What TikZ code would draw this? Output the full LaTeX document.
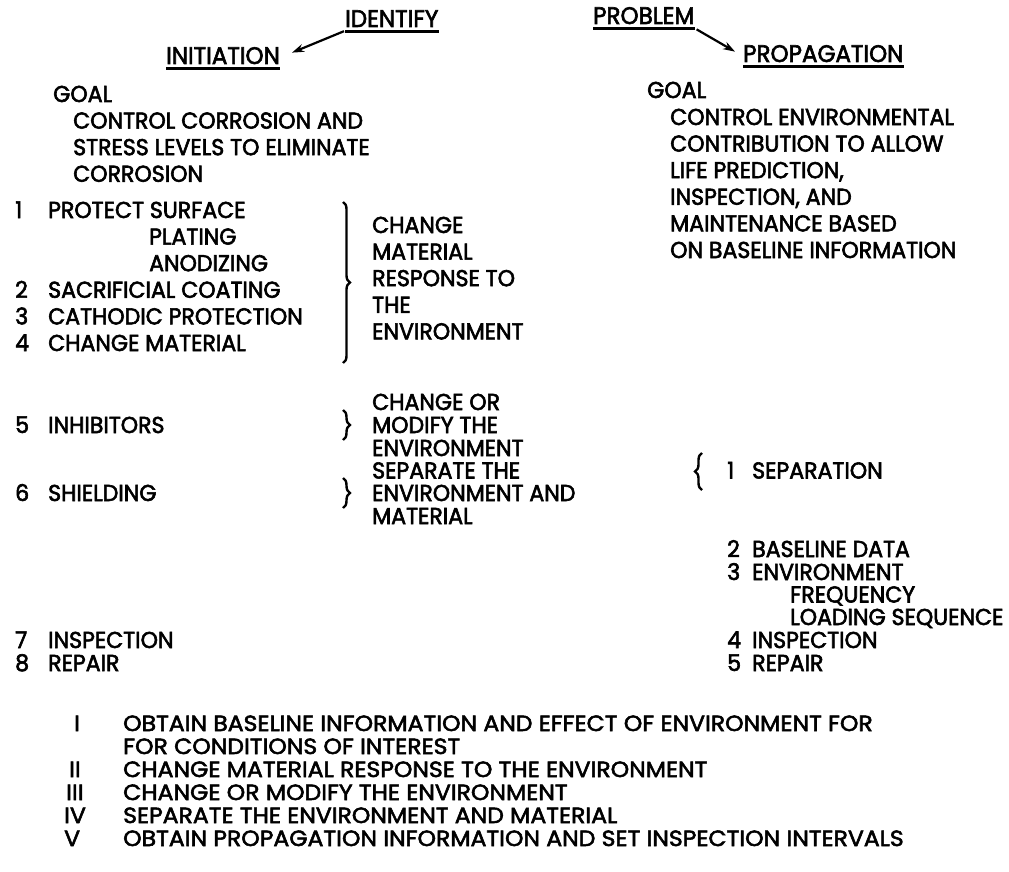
\documentclass[tikz,border=0pt]{standalone}
\usepackage{fontspec}
\setmainfont{Poppins}[FakeStretch=0.96,FakeBold=2.5]
\newfontfamily\footfont{Poppins}[FakeStretch=1.07,FakeBold=2.5]
\usetikzlibrary{arrows.meta,decorations.pathreplacing,calc}
\begin{document}
\begin{tikzpicture}[x=1pt,y=-1pt,
  txt/.style={anchor=base west,inner sep=0pt,font=\fontsize{23}{26}\selectfont},
  head/.style={txt,font=\fontsize{24}{26}\selectfont},
  foot/.style={anchor=base west,inner sep=0pt,font=\footfont\fontsize{22}{24}\selectfont},
  ul/.style={line width=3.2pt},
  pointer/.style={line width=2.2pt,-{Stealth[length=12pt,width=8pt]}},
  curly/.style={line width=2.4pt,decorate,decoration={brace,amplitude=7pt}},
  curlyl/.style={line width=2.4pt,decorate,decoration={brace,amplitude=7pt,mirror}},
]
\useasboundingbox (0,0) rectangle (1009,872);

% headings
\node[head] (ident) at (345,27) {IDENTIFY};
\node[head] (prob) at (593,24) {PROBLEM};
\node[head] (init) at (166,64) {INITIATION};
\node[head] (prop) at (743,62) {PROPAGATION};
\foreach \n in {ident,prob,init,prop}
  \draw[ul] ($(\n.south west)+(0,4)$) -- ($(\n.south east)+(0,4)$);
\draw[pointer] ($(ident.south west)+(-1,4)$) -- ($(init.east)+(12,-3)$);
\draw[pointer] ($(prob.south east)+(2,5)$) -- ($(prop.west)+(-8,-2)$);

% initiation goal
\node[txt] (lgoal) at (53,102) {GOAL};
\node[txt] (lg1) at (73,128.6) {CONTROL CORROSION AND};
\node[txt] (lg2) at (73,155.2) {STRESS LEVELS TO ELIMINATE};
\node[txt] (lg3) at (73,181.8) {CORROSION};

% initiation list
\node[txt] (n1) at (15,218) {1};
\node[txt] (a1) at (48,218) {PROTECT SURFACE};
\node[txt] (a1a) at (149,244.6) {PLATING};
\node[txt] (a1b) at (149,271.2) {ANODIZING};
\node[txt] (n2) at (15,297.8) {2};
\node[txt] (a2) at (48,297.8) {SACRIFICIAL COATING};
\node[txt] (n3) at (15,324.4) {3};
\node[txt] (a3) at (48,324.4) {CATHODIC PROTECTION};
\node[txt] (n4) at (15,351) {4};
\node[txt] (a4) at (48,351) {CHANGE MATERIAL};
\node[txt] (n5) at (15,433) {5};
\node[txt] (a5) at (48,433) {INHIBITORS};
\node[txt] (n6) at (15,501) {6};
\node[txt] (a6) at (48,501) {SHIELDING};
\node[txt] (n7) at (15,648) {7};
\node[txt] (a7) at (48,648) {INSPECTION};
\node[txt] (n8) at (15,671) {8};
\node[txt] (a8) at (48,671) {REPAIR};

% braces and their notes
\coordinate (b1t) at (343,202);
\coordinate (b1b) at (343,363);
\draw[curly] (b1t) -- (b1b);
\node[txt] (m1) at (372,233) {CHANGE};
\node[txt] (m2) at (372,259.6) {MATERIAL};
\node[txt] (m3) at (372,286.2) {RESPONSE TO};
\node[txt] (m4) at (372,312.8) {THE};
\node[txt] (m5) at (372,339.4) {ENVIRONMENT};

\coordinate (b2t) at (343,410);
\coordinate (b2b) at (343,440);
\draw[curly] (b2t) -- (b2b);
\node[txt] (m6) at (372,410) {CHANGE OR};
\node[txt] (m7) at (372,433) {MODIFY THE};
\node[txt] (m8) at (372,456) {ENVIRONMENT};

\coordinate (b3t) at (343,478);
\coordinate (b3b) at (343,508);
\draw[curly] (b3t) -- (b3b);
\node[txt] (m9) at (372,478.5) {SEPARATE THE};
\node[txt] (m10) at (372,501) {ENVIRONMENT AND};
\node[txt] (m11) at (372,524) {MATERIAL};

% propagation goal
\node[txt] (rgoal) at (647,98) {GOAL};
\node[txt] (rg1) at (670,125) {CONTROL ENVIRONMENTAL};
\node[txt] (rg2) at (670,151.6) {CONTRIBUTION TO ALLOW};
\node[txt] (rg3) at (670,178.2) {LIFE PREDICTION,};
\node[txt] (rg4) at (670,204.8) {INSPECTION, AND};
\node[txt] (rg5) at (670,231.4) {MAINTENANCE BASED};
\node[txt] (rg6) at (670,258) {ON BASELINE INFORMATION};

% propagation list
\coordinate (b4t) at (702,453);
\coordinate (b4b) at (702,490);
\draw[curlyl] (b4t) -- (b4b);
\node[txt] (p1n) at (727,478.5) {1};
\node[txt] (p1) at (752,478.5) {SEPARATION};
\node[txt] (p2n) at (727,557) {2};
\node[txt] (p2) at (752,557) {BASELINE DATA};
\node[txt] (p3n) at (727,580) {3};
\node[txt] (p3) at (752,580) {ENVIRONMENT};
\node[txt] (p3a) at (790,602.5) {FREQUENCY};
\node[txt] (p3b) at (790,625) {LOADING SEQUENCE};
\node[txt] (p4n) at (727,648) {4};
\node[txt] (p4) at (752,648) {INSPECTION};
\node[txt] (p5n) at (727,671) {5};
\node[txt] (p5) at (752,671) {REPAIR};

% approaches
\node[foot] (r1) at (74,731) {I};
\node[foot] (s1) at (123,731) {OBTAIN BASELINE INFORMATION AND EFFECT OF ENVIRONMENT FOR};
\node[foot] (s1b) at (123,754) {FOR CONDITIONS OF INTEREST};
\node[foot] (r2) at (69,777) {II};
\node[foot] (s2) at (123,777) {CHANGE MATERIAL RESPONSE TO THE ENVIRONMENT};
\node[foot] (r3) at (66,800) {III};
\node[foot] (s3) at (123,800) {CHANGE OR MODIFY THE ENVIRONMENT};
\node[foot] (r4) at (64,823) {IV};
\node[foot] (s4) at (123,823) {SEPARATE THE ENVIRONMENT AND MATERIAL};
\node[foot] (r5) at (64,846) {V};
\node[foot] (s5) at (123,846) {OBTAIN PROPAGATION INFORMATION AND SET INSPECTION INTERVALS};
\end{tikzpicture}
\end{document}
